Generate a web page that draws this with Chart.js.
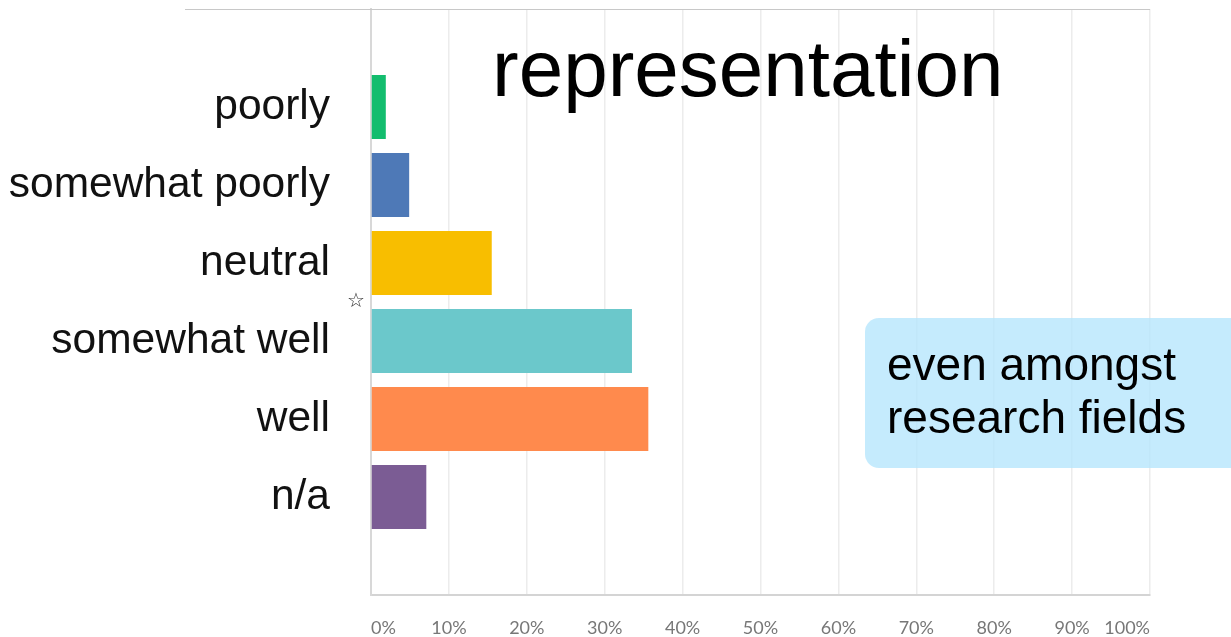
<!DOCTYPE html>
<html lang="en">
  <head>
    <meta charset="UTF-8" />
    <title>representation</title>
    <script src="https://cdn.jsdelivr.net/npm/chart.js@4.4.0/dist/chart.umd.min.js"></script>
    <style>
      body { margin: 0; background: #fff; font-family: "Helvetica Neue", "Liberation Sans", Arial, sans-serif; }
      #wrap { position: relative; width: 1231px; height: 637px; overflow: hidden; }
      #topline { position: absolute; left: 185px; top: 9px; width: 965px; border-top: 1px solid #c8c8c8; }
      #title { position: absolute; left: 492px; top: 29px; font-size: 80px; line-height: 1; font-weight: 300; color: #000; }
      #star { position: absolute; left: 347px; top: 290px; font-size: 20px; line-height: 1; color: #333; }
      #note {
        position: absolute; left: 865px; top: 318px; width: 380px; height: 150px;
        box-sizing: border-box; padding: 20px 0 0 22px;
        background: rgba(182, 230, 252, 0.8); border-radius: 14px;
        font-size: 46px; line-height: 53px; font-weight: 300; color: #000;
      }
    </style>
  </head>
  <body>
    <div id="wrap">
      <canvas id="chart" width="1231" height="637"></canvas>
      <div id="topline"></div>
      <div id="title">representation</div>
      <div id="star">☆</div>
      <div id="note">even amongst<br>research fields</div>
    </div>
    <script>
      // answers, top to bottom
      var categories = ["poorly", "somewhat poorly", "neutral", "somewhat well", "well", "n/a"];
      var percents = [1.9, 4.9, 15.5, 33.5, 35.6, 7.1];
      var barColors = ["#13bd6e", "#4e79b7", "#f8be00", "#6bc8cb", "#ff8a4d", "#7b5c94"];

      var points = percents.map((v, i) => ({ x: v, y: i }));

      new Chart("chart", {
        type: "bar",
        data: {
          datasets: [{
            data: points,
            backgroundColor: barColors,
            borderWidth: 0,
            barPercentage: 1,
            categoryPercentage: 0.82
          }]
        },
        options: {
          responsive: false,
          animation: false,
          indexAxis: "y",
          layout: { padding: { top: 9, right: 81, left: 0, bottom: 0 } },
          plugins: { legend: { display: false }, tooltip: { enabled: false } },
          scales: {
            x: {
              type: "linear",
              position: "bottom",
              min: 0,
              max: 100,
              grid: { color: "#ececec", lineWidth: 1.5, drawTicks: false },
              border: { color: "#d4d4d4", width: 2 },
              ticks: {
                stepSize: 10,
                align: "inner",
                padding: 22,
                color: "#777",
                font: { family: "Lato, 'Noto Sans', sans-serif", size: 18 },
                callback: v => v + "%"
              },
              afterFit: s => { s.height = 42; s.paddingLeft = 0; s.paddingRight = 0; }
            },
            y: {
              type: "linear",
              bounds: "data",
              offset: false,
              reverse: true,
              min: -1.256,
              max: 6.256,
              grid: { display: false, drawTicks: false, offset: false },
              border: { color: "#d8d8d8", width: 2 },
              afterBuildTicks: s => { s.ticks = categories.map((c, i) => ({ value: i })); },
              ticks: {
                padding: 41,
                color: "#111",
                font: { family: "'Helvetica Neue', 'Liberation Sans', Arial, sans-serif", size: 42.5, weight: "300" },
                callback: v => categories[v] || ""
              },
              afterFit: s => { s.width = 371; s.paddingTop = 0; s.paddingBottom = 0; }
            }
          }
        }
      });
    </script>
  </body>
</html>
